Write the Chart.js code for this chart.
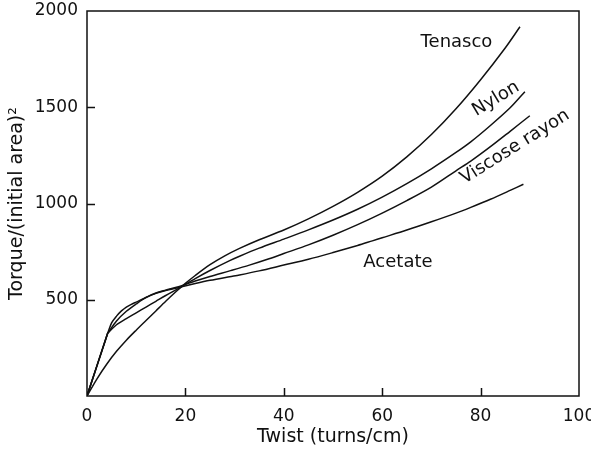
<!DOCTYPE html>
<html lang="en">
  <head>
    <meta charset="UTF-8" />
    <title>Torque against twist</title>
    <script src="https://cdn.jsdelivr.net/npm/chart.js"></script>
    <style>
      html, body { margin: 0; padding: 0; background: #fff; }
      #wrap { width: 591px; height: 449px; }
    </style>
  </head>
  <body>
    <div id="wrap"><canvas id="chart" width="591" height="449"></canvas></div>

    <script>
      // values (twist in turns/cm, torque/(initial area)^2)
      // the repeated point at 4.2 keeps the sharp kink of the three upper curves
      const tenascoTwist = [0, 2, 4, 6, 8, 10, 12, 14, 16, 18, 20, 22, 25, 28, 31, 35, 40, 45, 50, 55, 60, 65, 70, 75, 80, 85, 88];
      const tenascoTorque = [0, 88, 165, 232, 290, 342, 392, 442, 492, 540, 585, 626, 682, 728, 767, 812, 862, 920, 985, 1058, 1142, 1242, 1358, 1492, 1643, 1808, 1918];

      const nylonTwist = [0, 4.2, 4.2, 6, 8, 10, 12, 14, 16, 18.6, 22, 25, 29, 31, 35, 40, 45, 50, 55, 60, 65, 70, 75, 78, 82, 86, 89];
      const nylonTorque = [0, 326, 326, 370, 402, 432, 462, 492, 522, 559, 610, 652, 703, 726, 768, 815, 863, 914, 970, 1033, 1103, 1180, 1265, 1320, 1405, 1497, 1581];

      const viscoseTwist = [0, 4.2, 4.2, 6, 8, 10, 12, 14, 16, 18.6, 22, 25, 29, 33, 37, 40, 45, 50, 55, 60, 65, 70, 75, 78, 82, 86, 90];
      const viscoseTorque = [0, 326, 326, 390, 440, 478, 512, 535, 550, 568, 597, 621, 650, 680, 713, 740, 785, 835, 890, 950, 1015, 1085, 1170, 1220, 1295, 1375, 1456];

      const acetateTwist = [0, 4.2, 4.2, 5, 6, 7, 8, 9, 10, 12, 14, 16, 18.6, 22, 25, 29, 31, 35, 40, 45, 50, 55, 58, 60, 65, 70, 75, 78, 82, 86, 88.7];
      const acetateTorque = [0, 326, 326, 380, 415, 442, 462, 476, 488, 512, 533, 548, 563, 584, 601, 620, 629, 650, 680, 710, 745, 782, 806, 822, 862, 905, 950, 980, 1022, 1068, 1100];

      const xTicks = [0, 20, 40, 60, 80, 100];
      const yTicks = [500, 1000, 1500, 2000];

      // curve names, placed in data units
      const curveNames = ["Tenasco", "Nylon", "Viscose rayon", "Acetate"];
      const nameTwist = [75.1, 83.1, 87.0, 63.2];
      const nameTorque = [1836, 1543, 1294, 694];
      const nameAngle = [0, -31, -32, 0];

      const FONT = "'DejaVu Sans', sans-serif";
      const INK = "#111";

      function pts(xs, ys) {
        return xs.map((x, i) => ({ x: x, y: ys[i] }));
      }

      function line(data) {
        return {
          data: data,
          borderColor: INK,
          borderWidth: 1.5,
          pointRadius: 0,
          fill: false,
          tension: 0.3,
        };
      }

      // box frame, inward tick marks and the curve names
      const frame = {
        id: "frame",
        afterDraw(chart) {
          const { ctx, chartArea: a, scales } = chart;
          ctx.save();
          ctx.strokeStyle = INK;
          ctx.lineWidth = 1.5;
          ctx.strokeRect(a.left, a.top, a.right - a.left, a.bottom - a.top);

          ctx.beginPath();
          xTicks.forEach((v) => {
            if (v <= 0 || v >= 100) return;
            const px = Math.round(scales.x.getPixelForValue(v)) + 0.5;
            ctx.moveTo(px, a.bottom);
            ctx.lineTo(px, a.bottom - 8);
          });
          yTicks.forEach((v) => {
            if (v >= 2000) return;
            const py = Math.round(scales.y.getPixelForValue(v)) + 0.5;
            ctx.moveTo(a.left, py);
            ctx.lineTo(a.left + 8, py);
          });
          ctx.stroke();

          ctx.fillStyle = INK;
          ctx.font = "18px " + FONT;
          ctx.textAlign = "center";
          ctx.textBaseline = "middle";
          curveNames.forEach((name, i) => {
            const px = scales.x.getPixelForValue(nameTwist[i]);
            const py = scales.y.getPixelForValue(nameTorque[i]);
            ctx.save();
            ctx.translate(px, py);
            ctx.rotate((nameAngle[i] * Math.PI) / 180);
            ctx.fillText(name, 0, 0);
            ctx.restore();
          });
          ctx.restore();
        },
      };

      new Chart(document.getElementById("chart"), {
        type: "line",
        data: {
          datasets: [
            line(pts(tenascoTwist, tenascoTorque)),
            line(pts(nylonTwist, nylonTorque)),
            line(pts(viscoseTwist, viscoseTorque)),
            line(pts(acetateTwist, acetateTorque)),
          ],
        },
        options: {
          responsive: false,
          animation: false,
          events: [],
          layout: { padding: { top: 11, right: 12, left: 0, bottom: 0 } },
          plugins: { legend: { display: false }, tooltip: { enabled: false } },
          scales: {
            x: {
              type: "linear",
              min: 0,
              max: 100,
              afterBuildTicks: (s) => { s.ticks = xTicks.map((v) => ({ value: v })); },
              afterFit: (s) => { s.height = 53; s.paddingLeft = 0; s.paddingRight = 0; },
              grid: { display: false, drawTicks: false },
              border: { display: false },
              ticks: {
                color: INK,
                font: { family: FONT, size: 17 },
                padding: 10,
                maxRotation: 0,
                callback: (v) => String(v),
              },
              title: {
                display: true,
                text: "Twist (turns/cm)",
                color: INK,
                font: { family: FONT, size: 19 },
                padding: { top: 0, bottom: 1 },
              },
            },
            y: {
              type: "linear",
              min: 0,
              max: 2000,
              afterBuildTicks: (s) => { s.ticks = yTicks.map((v) => ({ value: v })); },
              afterFit: (s) => { s.width = 87; s.paddingTop = 0; s.paddingBottom = 0; },
              grid: { display: false, drawTicks: false },
              border: { display: false },
              ticks: {
                color: INK,
                font: { family: FONT, size: 17 },
                padding: 9,
                callback: (v) => String(v),
              },
              title: {
                display: true,
                text: "Torque/(initial area)²",
                color: INK,
                font: { family: FONT, size: 19 },
                padding: { top: 6, bottom: 0 },
              },
            },
          },
        },
        plugins: [frame],
      });
    </script>
  </body>
</html>
